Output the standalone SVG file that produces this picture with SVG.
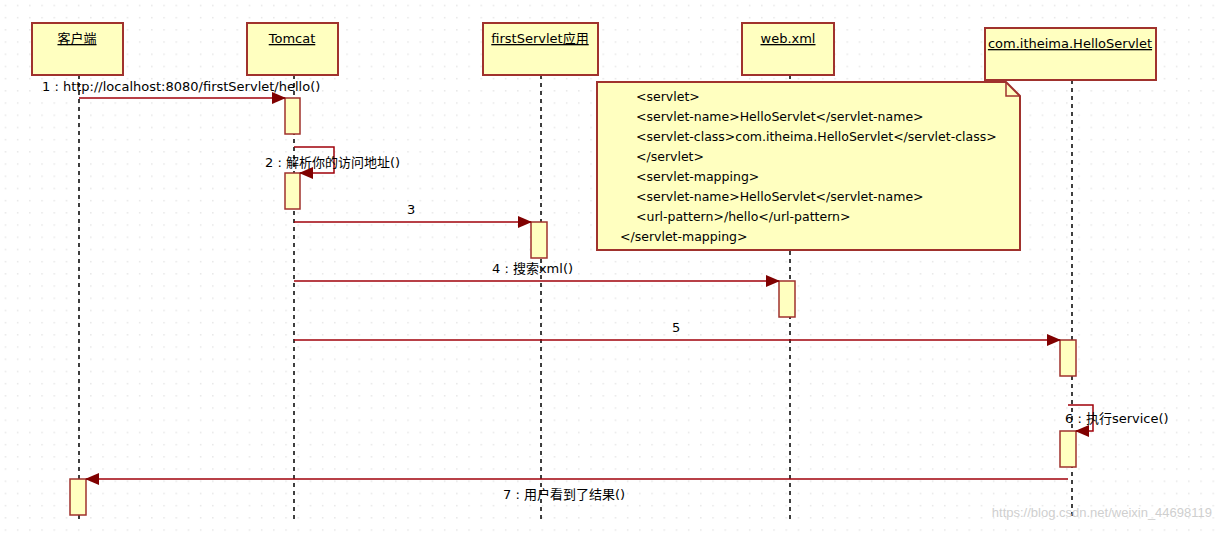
<svg xmlns="http://www.w3.org/2000/svg" width="1221" height="533" viewBox="0 0 1221 533">
<defs>
<pattern id="grid" width="12.2" height="12.2" patternUnits="userSpaceOnUse"><rect x="5" y="5" width="1" height="1" fill="#c8c8c8"/></pattern>
<marker id="ah" markerWidth="14" markerHeight="12" refX="13" refY="6" orient="auto" markerUnits="userSpaceOnUse"><path d="M0,0 L14,6 L0,12 Z" fill="#800000"/></marker>
<style>
.box{fill:#ffffc0;stroke:#a0322d;stroke-width:2}
.act{fill:#ffffc0;stroke:#a0322d;stroke-width:1.5}
.life{stroke:#000;stroke-width:1.5;stroke-dasharray:4,4;fill:none}
.msg{stroke:#a0000a;stroke-width:1.5;fill:none;marker-end:url(#ah)}
.t{font-family:"DejaVu Sans","Liberation Sans","Noto Sans CJK SC",sans-serif;font-size:13px;fill:#000}
.n{font-family:"DejaVu Sans","Liberation Sans","Noto Sans CJK SC",sans-serif;font-size:12.5px;fill:#000}
.u{text-decoration:underline}
</style>
</defs>
<rect width="1221" height="533" fill="#fff"/>
<rect width="1221" height="533" fill="url(#grid)"/>
<g id="lifelines">
<line class="life" x1="79" y1="75" x2="79" y2="520"/>
<line class="life" x1="294" y1="75" x2="294" y2="520"/>
<line class="life" x1="541" y1="75" x2="541" y2="520"/>
<line class="life" x1="790" y1="75" x2="790" y2="520"/>
<line class="life" x1="1072" y1="80" x2="1072" y2="520"/>
</g>
<g id="client"><rect class="box" x="32" y="23" width="91" height="52"/><text class="t u" x="77" y="43" text-anchor="middle">客户端</text></g>
<g id="tomcat"><rect class="box" x="247" y="23" width="91" height="52"/><text class="t u" x="292" y="43" text-anchor="middle">Tomcat</text></g>
<g id="firstServlet"><rect class="box" x="483" y="23" width="115" height="52"/><text class="t u" x="540" y="43" text-anchor="middle">firstServlet应用</text></g>
<g id="webxml"><rect class="box" x="742" y="23" width="92" height="52"/><text class="t u" x="788" y="43" text-anchor="middle">web.xml</text></g>
<g id="helloServlet"><rect class="box" x="985" y="28" width="171" height="52"/><text class="t u" x="1070" y="48" text-anchor="middle">com.itheima.HelloServlet</text></g>
<g id="note">
<path class="box" d="M597,82 H1006 L1020,96 V250 H597 Z"/>
<path d="M1006,82 V96 H1020" fill="none" stroke="#a0322d" stroke-width="1.5"/>
<text class="n" x="636" y="101">&lt;servlet&gt;</text>
<text class="n" x="636" y="121">&lt;servlet-name&gt;HelloServlet&lt;/servlet-name&gt;</text>
<text class="n" x="636" y="141">&lt;servlet-class&gt;com.itheima.HelloServlet&lt;/servlet-class&gt;</text>
<text class="n" x="636" y="161">&lt;/servlet&gt;</text>
<text class="n" x="636" y="181">&lt;servlet-mapping&gt;</text>
<text class="n" x="636" y="201">&lt;servlet-name&gt;HelloServlet&lt;/servlet-name&gt;</text>
<text class="n" x="636" y="221">&lt;url-pattern&gt;/hello&lt;/url-pattern&gt;</text>
<text class="n" x="620" y="241">&lt;/servlet-mapping&gt;</text>
</g>
<g id="activations">
<rect class="act" x="285" y="98" width="15" height="36"/>
<rect class="act" x="285" y="173" width="15" height="36"/>
<rect class="act" x="531" y="222" width="16" height="36"/>
<rect class="act" x="779" y="281" width="16" height="36"/>
<rect class="act" x="1060" y="340" width="16" height="36"/>
<rect class="act" x="1060" y="431" width="16" height="36"/>
<rect class="act" x="70" y="479" width="16" height="36"/>
</g>
<g id="connectors">
<path class="msg" d="M79,98 H285"/>
<path class="msg" d="M294,147 H334 V173 H300"/>
<path class="msg" d="M294,222 H531"/>
<path class="msg" d="M294,281 H779"/>
<path class="msg" d="M294,340 H1060"/>
<path class="msg" d="M1068,405 H1093 V431 H1076"/>
<path class="msg" d="M1068,479 H86"/>
</g>
<g id="labels">
<text class="t" x="42" y="91">1 : http://localhost:8080/firstServlet/hello()</text>
<text class="t" x="265" y="167">2 : 解析你的访问地址()</text>
<text class="t" x="407" y="214">3</text>
<text class="t" x="492" y="273">4 : 搜索xml()</text>
<text class="t" x="672" y="332">5</text>
<text class="t" x="1065" y="423">6 : 执行service()</text>
<text class="t" x="503" y="499">7 : 用户看到了结果()</text>
</g>
<text x="1212" y="517" text-anchor="end" font-family="Liberation Sans, sans-serif" font-size="13" fill="#cfcfcf">https://blog.csdn.net/weixin_44698119</text>
</svg>
